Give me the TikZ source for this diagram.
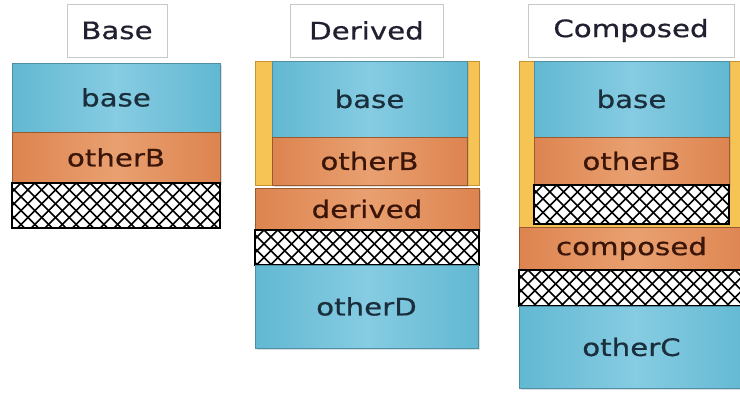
\documentclass[tikz,border=0pt]{standalone}
\usepackage{fontspec}
\setmainfont{DejaVu Sans}[FakeStretch=1.22,FakeBold=0.6]
\usetikzlibrary{shadows}
\definecolor{blueD}{HTML}{62B8D2}
\definecolor{blueL}{HTML}{86CCE2}
\definecolor{blueB}{HTML}{4F8FA6}
\definecolor{oranD}{HTML}{DD8450}
\definecolor{oranL}{HTML}{E9A070}
\definecolor{oranB}{HTML}{9A5A30}
\definecolor{yell}{HTML}{F5C454}
\definecolor{yellB}{HTML}{C8922E}
\definecolor{txtB}{HTML}{1A2E3C}
\definecolor{txtO}{HTML}{3A1508}
\definecolor{ttl}{HTML}{202030}
\definecolor{ttlB}{HTML}{C8C8C8}
\tikzset{
  cellbase/.style={inner sep=0pt, outer sep=0pt, line width=1pt, font=\fontsize{24}{28}\selectfont},
  bluecell/.style={cellbase, draw=blueB, left color=blueD, right color=blueD, middle color=blueL, text=txtB,
     drop shadow={shadow xshift=2pt, shadow yshift=-2pt, opacity=0.25}},
  orancell/.style={cellbase, draw=oranB, left color=oranD, right color=oranD, middle color=oranL, text=txtO,
     drop shadow={shadow xshift=2pt, shadow yshift=-2pt, opacity=0.25}},
  yellcell/.style={cellbase, draw=yellB, fill=yell},
  titlecell/.style={cellbase, draw=ttlB, fill=white, text=ttl, line width=0.8pt},
  hatchline/.style={black, line width=1.6pt},
  hatchframe/.style={cellbase, draw=black, line width=1.6pt}
}
% \cell{name}{style}{x1}{y1}{x2}{y2}{text}
\newcommand\cell[7]{%
  \node[#2, minimum width={#5-#3}, minimum height={#6-#4}] (#1) at ({(#3+#5)/2},{(#4+#6)/2}) {#7};}
% \hatchcell{name}{x1}{y1}{x2}{y2}
\newcommand\hatchcell[5]{%
  \begin{scope}
    \clip (#2,#3) rectangle (#4,#5);
    \fill[white] (#2,#3) rectangle (#4,#5);
    \foreach \i in {0,...,28} {
      \draw[hatchline] ({#2-60+\i*13.8},#3) -- ++(80,80);
      \draw[hatchline] ({#2-60+\i*13.8},#3) -- ++(-80,80);
    }
  \end{scope}
  \node[hatchframe, minimum width={#4-#2}, minimum height={#5-#3}] (#1) at ({(#2+#4)/2},{(#3+#5)/2}) {};}
\begin{document}
\begin{tikzpicture}[x=1pt,y=-1pt]
\useasboundingbox (0,0) rectangle (740,392);
\begin{scope}
\clip (0,0) rectangle (740,392);
% Base
\cell{tBase}{titlecell}{67}{4}{167}{57}{Base}
\cell{bBase}{bluecell}{12}{63}{220}{132}{base}
\cell{bOther}{orancell}{12}{132}{220}{183}{otherB}
\hatchcell{bPad}{12}{183}{220}{228}
% Derived
\cell{tDer}{titlecell}{290}{4}{443}{57}{Derived}
\cell{dYel}{yellcell}{255}{61}{479}{185}{}
\cell{dBase}{bluecell}{272}{61}{467}{137}{base}
\cell{dOther}{orancell}{272}{137}{467}{185}{otherB}
\cell{dDer}{orancell}{255}{188}{479}{230}{derived}
\hatchcell{dPad}{255}{230}{479}{265}
\cell{dOD}{bluecell}{255}{265}{478}{348}{otherD}
% Composed
\cell{tCom}{titlecell}{528}{4}{734}{57}{Composed}
\cell{cYel}{yellcell}{519}{61}{752}{227}{}
\cell{cBase}{bluecell}{534}{61}{729}{137}{base}
\cell{cOther}{orancell}{534}{137}{729}{185}{otherB}
\hatchcell{cPad}{534}{185}{729}{224}
\cell{cCom}{orancell}{519}{227}{752}{270}{\hspace*{-8pt}composed}
\hatchcell{cPad2}{519}{270}{752}{306}
\cell{cOC}{bluecell}{519}{306}{752}{388}{\hspace*{-8pt}otherC}
\end{scope}
\end{tikzpicture}
\end{document}
